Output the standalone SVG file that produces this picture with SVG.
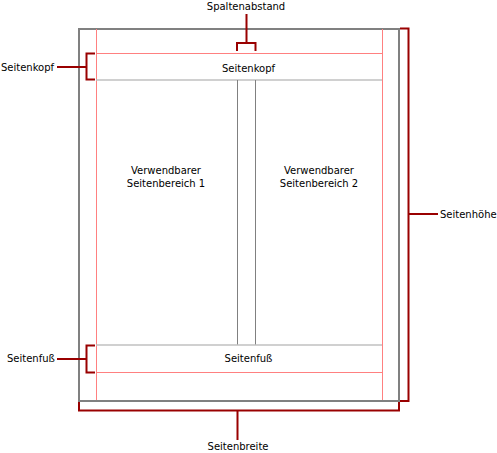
<svg xmlns="http://www.w3.org/2000/svg" width="497" height="453" viewBox="0 0 497 453">
<style>
text{font-family:"DejaVu Sans","Liberation Sans",sans-serif;font-size:10px;fill:#000}
.c{text-anchor:middle}
.page{fill:#fff;stroke:#808080;stroke-width:2}
.pink{stroke:#ff8080;stroke-width:1;fill:none}
.lg{stroke:#c0c0c0;stroke-width:1.5;fill:none}
.col{stroke:#808080;stroke-width:1;fill:none}
.br{stroke:#990000;stroke-width:2;fill:none}
</style>
<rect width="497" height="453" fill="#fff"/>
<g id="page">
<rect class="page" x="79" y="29" width="320" height="372"/>
<line class="pink" x1="96.5" y1="29" x2="96.5" y2="400"/>
<line class="pink" x1="382.5" y1="29" x2="382.5" y2="400"/>
</g>
<g id="header">
<line class="pink" x1="96" y1="53.5" x2="382" y2="53.5"/>
<line class="lg" x1="96" y1="80" x2="382" y2="80"/>
<text class="c" x="248.5" y="71.5">Seitenkopf</text>
</g>
<g id="columns">
<line class="col" x1="237.5" y1="80" x2="237.5" y2="345"/>
<line class="col" x1="255.5" y1="80" x2="255.5" y2="345"/>
</g>
<g id="area1">
<text class="c" x="166" y="173.5">Verwendbarer</text>
<text class="c" x="166" y="187">Seitenbereich 1</text>
</g>
<g id="area2">
<text class="c" x="319" y="173.5">Verwendbarer</text>
<text class="c" x="319" y="187">Seitenbereich 2</text>
</g>
<g id="footer">
<line class="lg" x1="96" y1="345" x2="382" y2="345"/>
<line class="pink" x1="96" y1="372.5" x2="382" y2="372.5"/>
<text class="c" x="248.5" y="362">Seitenfuß</text>
</g>
<g id="connectors">
<path class="br" d="M246.5,14 V43 M237,51 V43 H255.5 V51"/>
<path class="br" d="M57,67 H86.5 M95,53.5 H86.5 V79.5 H95"/>
<path class="br" d="M57,359 H86.5 M95,345.5 H86.5 V372.5 H95"/>
<path class="br" d="M79,402 V410.5 H399 V402 M237.5,410.5 V440"/>
<path class="br" d="M400,28.5 H408.5 V401 H400 M408.5,214 H438"/>
</g>
<g id="labels">
<text class="c" x="246" y="9.5">Spaltenabstand</text>
<text x="1" y="70.5">Seitenkopf</text>
<text x="7" y="362">Seitenfuß</text>
<text class="c" x="238" y="450">Seitenbreite</text>
<text x="440" y="217.5">Seitenhöhe</text>
</g>
</svg>
